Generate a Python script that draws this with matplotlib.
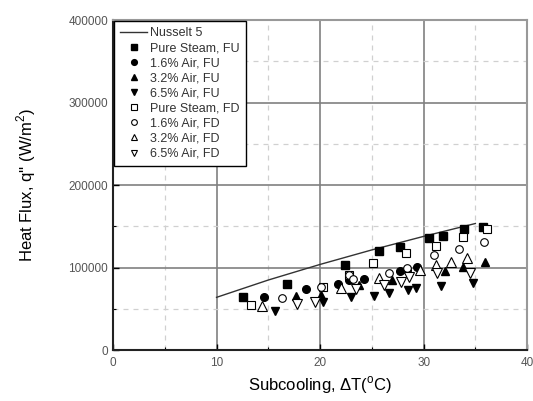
import matplotlib
matplotlib.use("Agg")
import matplotlib.pyplot as plt
from matplotlib.ticker import MultipleLocator

plt.rcParams["font.family"] = ["Liberation Sans", "DejaVu Sans"]
plt.rcParams["mathtext.fontset"] = "custom"
plt.rcParams["mathtext.rm"] = "Liberation Sans"

# Nusselt 5 correlation curve
nusselt_dt = [10, 15, 20, 25, 30, 35]
nusselt_q = [63900, 84900, 103800, 121400, 137800, 153400]

# FU series (filled markers)
steam_fu_dt = [12.6, 16.8, 22.4, 25.7, 27.7, 30.5, 31.9, 33.9, 35.7]
steam_fu_q = [64000, 80000, 102700, 120400, 125200, 136100, 138200, 146700, 148700]

air16_fu_dt = [14.6, 18.6, 21.7, 22.8, 24.2, 27.7, 28.4, 29.4]
air16_fu_q = [63900, 73500, 79600, 84500, 85700, 96100, 97000, 101000]

air32_fu_dt = [17.7, 20.1, 23.8, 26.9, 32.1, 33.8, 35.9]
air32_fu_q = [65400, 66700, 78400, 84800, 96100, 100200, 106700]

air65_fu_dt = [15.6, 20.3, 23.0, 25.2, 26.7, 28.5, 29.3, 31.7, 34.8]
air65_fu_q = [47700, 58600, 63800, 65900, 68700, 72700, 74700, 77600, 80800]

# FD series (open markers)
steam_fd_dt = [13.3, 20.3, 22.8, 25.1, 28.3, 31.2, 33.8, 36.1]
steam_fd_q = [54200, 76000, 90500, 105500, 118000, 126000, 137400, 146300]

air16_fd_dt = [16.3, 20.1, 22.8, 23.2, 26.7, 28.4, 31.0, 33.4, 35.8]
air16_fd_q = [62600, 76800, 91500, 86400, 93700, 99000, 114800, 122800, 130500]

air32_fd_dt = [14.4, 22.0, 25.7, 29.7, 31.2, 32.6, 34.2]
air32_fd_q = [53300, 75500, 86900, 97000, 102600, 107000, 111900]

air65_fd_dt = [17.8, 19.5, 23.5, 26.2, 27.8, 28.6, 31.3, 34.5]
air65_fd_q = [55800, 58600, 73500, 78800, 82800, 88900, 92900, 93700]

fig = plt.figure(figsize=(5.33, 4.01), dpi=100)
ax = fig.add_axes([0.212, 0.127, 0.777, 0.823])

ax.plot(nusselt_dt, nusselt_q, "-", color="#333333", linewidth=1.0, label="Nusselt 5")

ms = 5.5
ax.plot(steam_fu_dt, steam_fu_q, "s", ms=ms, mfc="black", mec="black", ls="none", label="Pure Steam, FU")
ax.plot(air16_fu_dt, air16_fu_q, "o", ms=ms, mfc="black", mec="black", ls="none", label="1.6% Air, FU")
ax.plot(air32_fu_dt, air32_fu_q, "^", ms=ms + 0.5, mfc="black", mec="black", ls="none", label="3.2% Air, FU")
ax.plot(air65_fu_dt, air65_fu_q, "v", ms=ms + 0.5, mfc="black", mec="black", ls="none", label="6.5% Air, FU")
ax.plot(steam_fd_dt, steam_fd_q, "s", ms=ms, mfc="white", mec="black", mew=0.8, ls="none", label="Pure Steam, FD")
ax.plot(air16_fd_dt, air16_fd_q, "o", ms=ms, mfc="white", mec="black", mew=0.8, ls="none", label="1.6% Air, FD")
ax.plot(air32_fd_dt, air32_fd_q, "^", ms=ms + 1, mfc="white", mec="black", mew=0.8, ls="none", label="3.2% Air, FD")
ax.plot(air65_fd_dt, air65_fd_q, "v", ms=ms + 1, mfc="white", mec="black", mew=0.8, ls="none", label="6.5% Air, FD")

ax.set_xlim(0, 40)
ax.set_ylim(0, 400000)
ax.xaxis.set_major_locator(MultipleLocator(10))
ax.xaxis.set_minor_locator(MultipleLocator(5))
ax.yaxis.set_major_locator(MultipleLocator(100000))
ax.yaxis.set_minor_locator(MultipleLocator(50000))

ax.grid(which="major", color="#808080", linewidth=1.2)
ax.grid(which="minor", color="#d0d0d0", linewidth=0.9, linestyle=(0, (4, 4)))
ax.set_axisbelow(True)

ax.tick_params(which="both", direction="in", colors="black", labelcolor="#555555", labelsize=8.5)
ax.tick_params(which="major", length=4, width=1.0)
ax.tick_params(which="minor", length=2.5, width=0.8)
ax.tick_params(axis="x", pad=5)

for side in ["left", "bottom"]:
    ax.spines[side].set_color("#222222")
    ax.spines[side].set_linewidth(1.5)
for side in ["top", "right"]:
    ax.spines[side].set_color("#999999")
    ax.spines[side].set_linewidth(1.5)

ax.set_xlabel(r"Subcooling, ΔT($^{\rm o}$C)", fontsize=12, labelpad=4)
ax.set_ylabel(r"Heat Flux, q'' (W/m$^{\rm 2}$)", fontsize=12, labelpad=22)

leg = ax.legend(loc="upper left", fontsize=9, frameon=True, fancybox=False,
                borderaxespad=0.05, handlelength=2.2, handletextpad=0.25,
                labelspacing=0.25, borderpad=0.5, markerscale=0.75)
leg.get_frame().set_edgecolor("black")
leg.get_frame().set_linewidth(1.0)
leg.get_frame().set_alpha(1.0)
for t in leg.get_texts():
    t.set_color("#333333")

fig.savefig("out.png", dpi=100)
